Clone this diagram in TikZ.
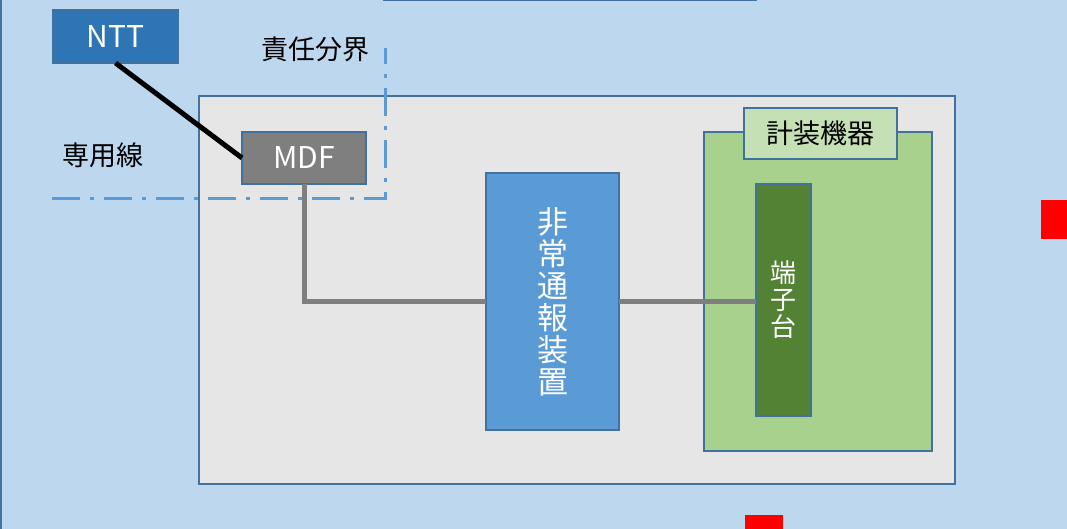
\documentclass[tikz,border=0pt]{standalone}
\usepackage{fontspec}
\setmainfont{Noto Sans CJK JP}
\usetikzlibrary{calc}
\definecolor{bgblue}{HTML}{BDD7EE}
\definecolor{edgeblue}{HTML}{41719C}
\definecolor{nttblue}{HTML}{2E75B6}
\definecolor{boxgray}{HTML}{E6E6E6}
\definecolor{mdfgray}{HTML}{7F7F7F}
\definecolor{midblue}{HTML}{5B9BD5}
\definecolor{midgreen}{HTML}{A9D18E}
\definecolor{lightgreen}{HTML}{C5E0B4}
\definecolor{darkgreen}{HTML}{548235}
\tikzset{
  blk/.style={rectangle, draw=edgeblue, line width=2.4pt, inner sep=0pt, outer sep=0pt, anchor=north west},
  lbl/.style={font=\fontsize{27}{30}\selectfont},
  latin/.style={font=\fontsize{30}{32}\selectfont},
  conn/.style={draw=mdfgray, line width=5pt},
  redsq/.style={rectangle, fill=red, draw=none, inner sep=0pt, outer sep=0pt, anchor=north west},
}
\begin{document}
\begin{tikzpicture}[x=1pt, y=-1pt]
\useasboundingbox (0,0) rectangle (1067,529);
\fill[bgblue] (0,0) rectangle (1067,529);
\draw[edgeblue, line width=3pt] (0,0) -- (0,529);
\draw[edgeblue, line width=2.5pt] (383,0) -- (757,0);
% boxes
\node[blk, fill=nttblue, minimum width=125pt, minimum height=53pt, text=white, latin] (ntt) at (53,10) {NTT};
\node[blk, fill=boxgray, minimum width=756pt, minimum height=388pt] (outer) at (199,96) {};
\node[blk, fill=midgreen, minimum width=228pt, minimum height=319pt] (keiso) at (704,132) {};
\node[blk, fill=lightgreen, minimum width=153pt, minimum height=51pt, lbl] (keisolbl) at (744,108) {計装機器};
\node[blk, fill=darkgreen, minimum width=55pt, minimum height=232pt, text=white, align=center, font=\fontsize{26}{27}\selectfont] (tanshi) at (756,184) {端\\子\\台};
\node[blk, fill=midblue, minimum width=133pt, minimum height=257pt, text=white, align=center, font=\fontsize{31}{32}\selectfont] (hijo) at (486,173) {非\\常\\通\\報\\装\\置};
\node[blk, fill=mdfgray, minimum width=124pt, minimum height=52pt, text=white, latin] (mdf) at (242,132) {MDF};
% labels
\node[lbl] (sekinin) at (315,49) {責任分界};
\node[lbl] (senyo) at (103,155) {専用線};
% boundary dash-dot
\coordinate (b1) at (52,199);
\coordinate (b2) at (385,199);
\coordinate (b3) at (385,48);
\draw[midblue, line width=3pt, dash pattern=on 28pt off 10pt on 4pt off 10pt] (b1) -- (b2) -- (b3);
% connectors
\draw[black, line width=5pt] (ntt.south) -- (mdf.west);
\draw[conn] (mdf.south) |- (hijo.west);
\draw[conn] (hijo.east) -- (hijo.east -| tanshi.west);
% red squares
\node[redsq, minimum width=30pt, minimum height=39pt] (r1) at (1041,200) {};
\node[redsq, minimum width=38pt, minimum height=20pt] (r2) at (745,515) {};
\end{tikzpicture}
\end{document}
